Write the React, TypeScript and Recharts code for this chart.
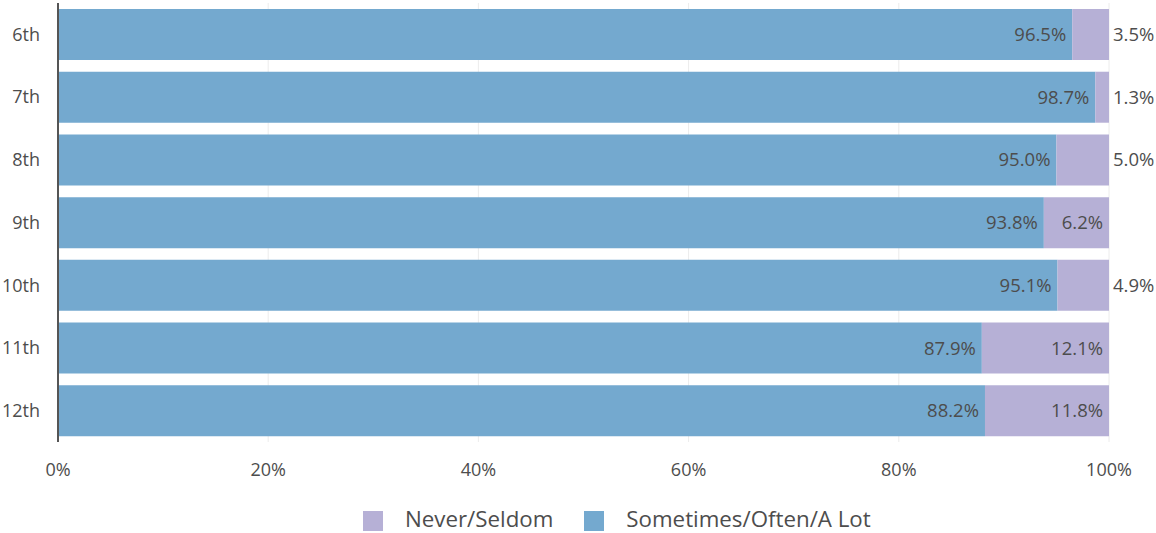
import React from "react";
import { BarChart, Bar, XAxis, YAxis, CartesianGrid, Legend, LabelList } from "recharts";

const grades = ["6th", "7th", "8th", "9th", "10th", "11th", "12th"];
const sometimes = [96.5, 98.7, 95.0, 93.8, 95.1, 87.9, 88.2];
const never = [3.5, 1.3, 5.0, 6.2, 4.9, 12.1, 11.8];
const xTicks = [0, 20, 40, 60, 80, 100];

const BLUE = "#74a9cf";
const PURPLE = "#b6b0d6";
const TEXT = "#4d4d4d";
const FONT = "'Open Sans', sans-serif";

const data = grades.map((g, i) => ({ grade: g, sometimes: sometimes[i], never: never[i] }));

const InsideLabel = (props: any) => {
  const { x, y, width, height, value } = props;
  return (
    <text x={x + width - 6} y={y + height / 2} dy="0.355em" textAnchor="end" fill={TEXT} fontSize={18.5} fontFamily={FONT}>
      {value.toFixed(1)}%
    </text>
  );
};

const NeverLabel = (props: any) => {
  const { x, y, width, height, value } = props;
  const inside = value >= 6;
  return (
    <text
      x={inside ? x + width - 6 : x + width + 4}
      y={y + height / 2}
      dy="0.355em"
      textAnchor={inside ? "end" : "start"}
      fill={TEXT}
      fontSize={18.5}
      fontFamily={FONT}
    >
      {value.toFixed(1)}%
    </text>
  );
};

const legendItems = [
  { name: "Never/Seldom", color: PURPLE },
  { name: "Sometimes/Often/A Lot", color: BLUE },
];

const LegendContent = () => (
  <div
    style={{
      display: "flex",
      justifyContent: "flex-start",
      paddingTop: 11,
      paddingLeft: 363,
      fontFamily: FONT,
      fontSize: 22.3,
      color: TEXT,
    }}
  >
    {legendItems.map((it, i) => (
      <div key={it.name} style={{ display: "flex", alignItems: "center", marginRight: i === 0 ? 31 : 0, height: 30 }}>
        <span
          style={{
            display: "inline-block",
            width: 20,
            height: 20,
            background: it.color,
            marginRight: 22,
            position: "relative",
            top: 3,
          }}
        />
        <span style={{ whiteSpace: "nowrap" }}>{it.name}</span>
      </div>
    ))}
  </div>
);

export default function App() {
  return (
    <div style={{ position: "absolute", left: 0, top: 0 }}>
      <BarChart
        width={1156}
        height={533}
        data={data}
        layout="vertical"
        margin={{ top: 3, right: 47, bottom: 0, left: 0 }}
      >
        <CartesianGrid horizontal={false} stroke="#ececec" />
        <XAxis
          type="number"
          domain={[0, 100]}
          ticks={xTicks}
          tickFormatter={(v: number) => `${v}%`}
          axisLine={false}
          tickLine={false}
          tickSize={0}
          tickMargin={21}
          height={50}
          tick={{ fill: TEXT, fontSize: 18, fontFamily: FONT }}
        />
        <YAxis
          type="category"
          dataKey="grade"
          width={58}
          axisLine={{ stroke: "#555555", strokeWidth: 2 }}
          tickLine={false}
          tickSize={0}
          tickMargin={18}
          tick={{ fill: TEXT, fontSize: 18, fontFamily: FONT }}
        />
        <Legend verticalAlign="bottom" height={41} content={<LegendContent />} />
        <Bar dataKey="sometimes" stackId="a" fill={BLUE} barSize={51} isAnimationActive={false}>
          <LabelList dataKey="sometimes" content={<InsideLabel />} />
        </Bar>
        <Bar dataKey="never" stackId="a" fill={PURPLE} barSize={51} isAnimationActive={false}>
          <LabelList dataKey="never" content={<NeverLabel />} />
        </Bar>
      </BarChart>
    </div>
  );
}
